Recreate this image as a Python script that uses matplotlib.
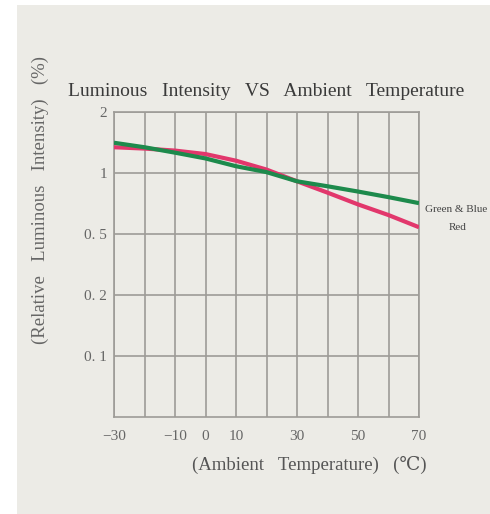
import matplotlib
matplotlib.use("Agg")
import matplotlib.pyplot as plt
import numpy as np
from matplotlib.patches import Rectangle

# data
temps = [-30, -20, -10, 0, 10, 20, 30, 40, 50, 60, 70]
green_blue = [1.41, 1.34, 1.26, 1.18, 1.08, 1.01, 0.91, 0.86, 0.81, 0.76, 0.71]
red = [1.34, 1.32, 1.29, 1.24, 1.15, 1.04, 0.91, 0.80, 0.70, 0.62, 0.54]

y_levels = [0.05, 0.1, 0.2, 0.5, 1, 2]
y_ticks = [0.1, 0.2, 0.5, 1, 2]
y_ticklabels = ["0. 1", "0. 2", "0. 5", "1", "2"]
x_ticks = [-30, -20, -10, 0, 10, 20, 30, 40, 50, 60, 70]
x_ticklabels = ["\u221230", "", "\u221210", "0", "10", "", "30", "", "50", "", "70"]

serif = ["Liberation Serif", "DejaVu Serif"]
bg = "#ecebe6"
grid_c = "#9d9b97"

lev_log = np.log10(y_levels)
lev_pos = np.arange(len(y_levels), dtype=float)


def fwd(y):
    y = np.clip(np.asarray(y, dtype=float), 1e-6, None)
    return np.interp(np.log10(y), lev_log, lev_pos)


def inv(p):
    return 10 ** np.interp(np.asarray(p, dtype=float), lev_pos, lev_log)


fig = plt.figure(figsize=(4.9, 5.14), dpi=100, facecolor="white")
fig.patches.append(Rectangle((17 / 490, 0), 1, 1 - 5 / 514, transform=fig.transFigure,
                             facecolor=bg, edgecolor="none", zorder=-10))

ax = fig.add_axes([114 / 490, 97 / 514, 305 / 490, 305 / 514])
ax.set_facecolor("none")
ax.set_yscale("function", functions=(fwd, inv))
ax.set_xlim(-30, 70)
ax.set_ylim(0.05, 2)

ax.set_xticks(x_ticks)
ax.set_xticklabels(x_ticklabels)
ax.set_yticks(y_ticks)
ax.set_yticklabels(y_ticklabels)
ax.yaxis.set_minor_locator(matplotlib.ticker.NullLocator())
ax.tick_params(length=0, colors="#666666", labelsize=11)
ax.tick_params(axis="x", pad=9)
ax.tick_params(axis="y", pad=5)
for lab in ax.get_xticklabels() + ax.get_yticklabels():
    lab.set_family(serif)

ax.grid(True, color=grid_c, linewidth=1.2)
for s in ax.spines.values():
    s.set_color(grid_c)
    s.set_linewidth(1.2)

ax.plot(temps, red, color="#e2376c", linewidth=3, solid_capstyle="butt", zorder=3)
ax.plot(temps, green_blue, color="#1d8a4c", linewidth=3, solid_capstyle="butt", zorder=4)

fig.text(266 / 490, 1 - 92 / 514, "Luminous   Intensity   VS   Ambient   Temperature",
         family=serif, fontsize=14, color="#3a3a3a", ha="center", va="center")
fig.text(40 / 490, 1 - 200 / 514, "(Relative   Luminous   Intensity)   (%)",
         family=serif, fontsize=13.5, color="#666666", ha="center", va="center", rotation=90)
fig.text(309 / 490, 1 - 465 / 514, "(Ambient   Temperature)   (\u2103)",
         family=serif, fontsize=13.5, color="#555555", ha="center", va="center")
fig.text(425 / 490, 1 - 210 / 514, "Green & Blue", family=serif, fontsize=8,
         color="#444444", ha="left", va="center")
fig.text(458 / 490, 1 - 228 / 514, "Red", family=serif, fontsize=8,
         color="#444444", ha="center", va="center")

fig.savefig("out.png", dpi=100, facecolor="white")
